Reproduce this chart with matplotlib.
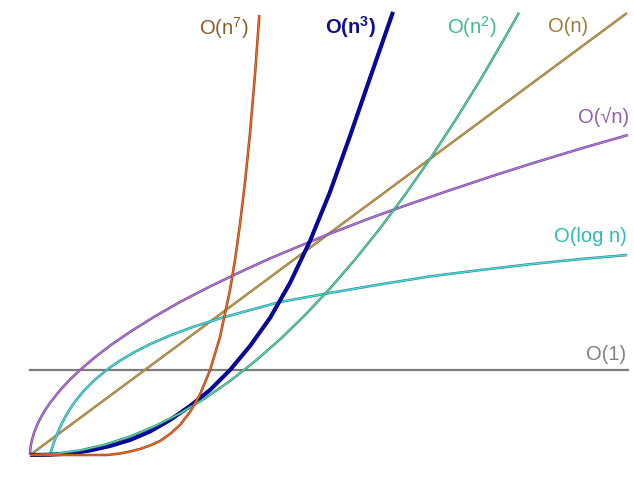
import matplotlib
matplotlib.use("Agg")
import matplotlib.pyplot as plt
import matplotlib.patheffects as pe

plt.rcParams['font.family'] = ['Liberation Sans', 'DejaVu Sans']
plt.rcParams['mathtext.fontset'] = 'custom'
plt.rcParams['mathtext.rm'] = 'Liberation Sans'
plt.rcParams['mathtext.bf'] = 'Liberation Sans:bold'

# values (n to the right, time upward)
const_x = [0, 598]
const_y = [85, 85]

lin_x = [0, 597]
lin_y = [0, 442]

sqrt_x = [0, 0.1, 0.2, 0.5, 1, 2, 4, 7, 10, 15, 20, 30, 40, 50, 65, 80, 100, 125, 150, 180,
          210, 240, 270, 300, 340, 380, 420, 460, 500, 550, 598]
sqrt_y = [0, 3.1, 4.5, 7.3, 10.5, 15.2, 22.1, 29.8, 36, 44.7, 52.1, 64.7, 75.5, 85, 97.8, 109.3,
          123.1, 138.7, 153, 168.5, 182.9, 196.6, 209.1, 221.4, 236.8, 251.1, 264.8, 278.2, 291,
          306.2, 320]

log_x = [20, 20.5, 21, 22, 23.5, 25, 28, 31, 35, 40, 46, 55, 65, 78, 90, 105, 120, 140, 163,
         190, 220, 250, 300, 350, 400, 450, 500, 550, 597]
log_y = [0, 1.8, 3.5, 6.8, 11.4, 15.6, 23.2, 29.9, 37.7, 46.1, 54.7, 65.5, 75.4, 86.1, 94.4,
         103.2, 110.8, 119.5, 128.1, 136.7, 144.9, 153, 162.1, 170.6, 178.6, 184.9, 190.8, 195.9, 200]

sq_x = [0, 25, 50, 75, 100, 125, 150, 175, 200, 225, 250, 275, 300, 325, 350, 375, 400, 425,
        450, 475, 489]
sq_y = [0, 1.2, 4.6, 10.4, 18.5, 28.9, 41.6, 56.7, 74, 93.7, 115.6, 139.9, 166.5, 195.4, 226.6,
        260.2, 296, 334.2, 374.6, 417.4, 442.4]

cube_x = [0, 20, 40, 60, 80, 100, 120, 140, 160, 180, 200, 220, 240, 260, 280, 300, 320, 340, 363]
cube_y = [0, 0.3, 1.5, 4.5, 9, 15, 23.5, 35, 49, 65, 85, 109, 137, 172, 214, 263, 319, 377, 443]

pow7_x = [0, 60, 77, 90, 100, 110, 120, 130, 140, 150, 160, 170, 180, 190, 200, 205, 210, 215,
          220, 225, 229.3]
pow7_y = [0, 0, 0, 1.5, 3.5, 6, 9.5, 14, 21, 30, 43, 60.6, 84.7, 118, 165, 195, 231, 272.6,
          321.8, 380.5, 440]

fig = plt.figure(figsize=(6.34, 4.96), dpi=100)
ax = fig.add_axes([0, 0, 1, 1])
ax.set_xlim(-30, 604)
ax.set_ylim(-41, 455)
ax.axis('off')


def curve(x, y, core, edge, lw):
    ax.plot(x, y, color=core, lw=lw, solid_capstyle='butt',
            path_effects=[pe.Stroke(linewidth=lw + 0.9, foreground=edge), pe.Normal()])


ax.plot(const_x, const_y, color='#7c7c7c', lw=1.6)
curve(lin_x, lin_y, '#c8a050', '#8a6a34', 0.8)
curve(sqrt_x, sqrt_y, '#b478e0', '#70408a', 0.9)
curve(log_x, log_y, '#48e0e0', '#2c8888', 0.9)
curve(cube_x, cube_y, '#0808a8', '#000070', 2.0)
curve(sq_x, sq_y, '#5ce0b4', '#2c7c64', 0.8)
curve(pow7_x, pow7_y, '#ff6a1c', '#8a3c12', 0.9)

fs = 14.5
ax.text(194, 427, r'$\mathrm{O(n^7)}$', color='#8b5a22', fontsize=fs, ha='center', va='center')
ax.text(320, 428, r'$\mathbf{O(n^3)}$', color='#10108c', fontsize=fs, ha='center', va='center')
ax.text(442, 428, r'$\mathrm{O(n^2)}$', color='#3cb890', fontsize=fs, ha='center', va='center')
ax.text(538, 428, 'O(n)', color='#a07836', fontsize=fs, ha='center', va='center')
ax.text(574, 338, 'O(√n)', color='#9060a8', fontsize=fs, ha='center', va='center')
ax.text(560, 219, 'O(log n)', color='#30b8b8', fontsize=fs, ha='center', va='center')
ax.text(576, 100, 'O(1)', color='#808080', fontsize=fs, ha='center', va='center')

fig.savefig('out.png', dpi=100)
